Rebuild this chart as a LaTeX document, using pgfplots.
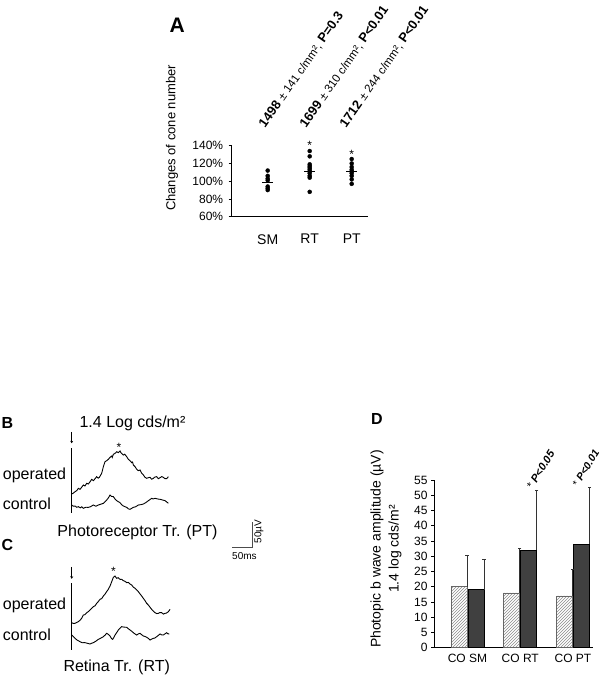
\documentclass[border=0pt]{standalone}
\usepackage{pgfplots}
\pgfplotsset{compat=1.18}
\usepackage{fontspec}
\setmainfont{Liberation Sans}
\usetikzlibrary{patterns,arrows.meta}

\pgfdeclareplotmark{halfcap}{%
  \pgfpathmoveto{\pgfpoint{-3.5pt}{0pt}}%
  \pgfpathlineto{\pgfpoint{0pt}{0pt}}%
  \pgfusepathqstroke}

\newcommand{\fs}[1]{\fontsize{#1}{#1}\selectfont}

\begin{document}
\begin{tikzpicture}[x=1pt,y=1pt]
\path[use as bounding box] (0,0) rectangle (605,680);

% ---------------- Panel A ----------------
\node[anchor=base west, font=\fs{21}\bfseries, inner sep=0pt] at (169.5,647) {A};
\node[rotate=90, font=\fs{13}] at (172,542) {Changes of cone number};

\begin{axis}[
  at={(231.7pt,463.3pt)}, anchor=south west,
  x=42pt, y=0.8875pt,
  xmin=0.143, xmax=3.38, ymin=60, ymax=140,
  axis lines=left, axis line style={-, line width=0.7pt},
  clip=false,
  xtick={1,2,3}, xticklabels={SM,RT,PT},
  ytick={60,80,100,120,140},
  yticklabel={\pgfmathprintnumber{\tick}\%},
  /pgf/number format/assume math mode=true,
  yticklabel style={font=\fs{12}, xshift=-2pt},
  xticklabel style={font=\fs{14}, yshift=-11pt},
  major x tick style={draw=none},
  tick align=outside, major tick length=3pt,
  tick style={black, line width=0.6pt},
]
\addplot[only marks, mark=*, mark size=2pt, black] coordinates {
 (1,112) (1,106) (1,103) (1,101) (1,94) (1,92) (1,90)
 (2,134) (2,128) (2,119) (2,117) (2,115) (2,113) (2,111) (2,109) (2,106) (2,104) (2,88)
 (3,125) (3,120) (3,116) (3,113) (3,111) (3,109) (3,106) (3,102) (3,97)
};
\addplot[black, line width=1pt] coordinates {(0.869,98.8) (1.131,98.8)};
\addplot[black, line width=1pt] coordinates {(1.869,110.7) (2.131,110.7)};
\addplot[black, line width=1pt] coordinates {(2.869,110.7) (3.131,110.7)};
\node[anchor=base, font=\fs{12}, inner sep=0pt] at (axis cs:2,135.5) {*};
\node[anchor=base, font=\fs{12}, inner sep=0pt] at (axis cs:3,125.3) {*};
\end{axis}

\node[rotate=55, anchor=base west, inner sep=0pt, font=\fs{13}] at (265,551.7)
  {\textbf{1498} {\fs{11.5}± 141 c/mm², }\textbf{P=0.3}};
\node[rotate=55, anchor=base west, inner sep=0pt, font=\fs{13}] at (306,551.7)
  {\textbf{1699} {\fs{11.5}± 310 c/mm², }\textbf{P<0.01}};
\node[rotate=55, anchor=base west, inner sep=0pt, font=\fs{13}] at (346,551.7)
  {\textbf{1712} {\fs{11.5}± 244 c/mm², }\textbf{P<0.01}};

% ---------------- Panel B ----------------
\node[anchor=base west, font=\fs{16}\bfseries, inner sep=0pt] at (1.5,251) {B};
\node[anchor=base, font=\fs{16}, inner sep=0pt] at (132.5,252.7) {1.4 Log cds/m²};
\node[anchor=base west, font=\fs{16}, inner sep=0pt] at (2.7,200) {operated};
\node[anchor=base west, font=\fs{16}, inner sep=0pt] at (2.7,170) {control};
\node[anchor=base, font=\fs{16}, inner sep=0pt] at (137.5,143.3) {Photoreceptor Tr. (PT)};

\begin{axis}[
  at={(67.8pt,120.2pt)}, anchor=south west,
  x=0.39pt, y=0.52pt,
  xmin=-10, xmax=490, ymin=-90, ymax=170,
  hide axis, clip=false,
]
% stimulus marker
\addplot[black, line width=1pt] coordinates {(0,0) (0,125)};
\addplot[black, line width=0.8pt, -{Stealth[length=2.5pt,width=3pt]}] coordinates {(0,156) (0,134)};
% operated
\addplot[black, line width=0.9pt] table {
0 36.5
4 38
8.5 41.0
13 43
17.1 47.4
21.4 45.5
26 50
29.9 53.8
34 52
38.5 57.1
42.7 55.8
47 60
51.3 64.7
55.6 62.2
60 66
64.1 69.9
68 67
70.9 68.6
76.9 76.3
81.2 89.1
85.5 98.7
89.7 100.6
94.0 103.2
98.3 107.1
102.6 109.6
104 107
106.8 112.8
111.1 114.7
115.4 117.9
119.7 116.0
123.9 119.2
126 116
128.2 114.7
132.5 111.5
136 113
141.0 108.3
145.3 103.2
149.6 100.6
153.8 96.8
156 98
158.1 92.3
162.4 89.1
166.7 84.0
170.9 81.4
175.2 82.7
179.5 76.3
183.8 73.1
188.0 68.6
192.3 66.7
197 68
200.9 68.6
205 65
209.4 66.7
213 69
217.9 69.9
222 66
226.5 67.9
231 70
235.0 68.6
239 66
243.6 66.0
247.9 69.9
};
% control
\addplot[black, line width=0.9pt] table {
0 15.4
4 13
8.5 13.5
13 11
17.1 12.2
22 10
26 12
29.9 9.0
36 11
42.7 10.9
48 12
55.6 15.4
62 13
68.4 15.4
75 17
81.2 18.6
89.7 25.0
94 29
98.3 34.6
102 32
106.8 31.4
111 27
115.4 23.7
119 22
123.9 19.9
128 16
132.5 13.5
137 12
141.0 10.9
145 8
149.6 7.1
154 9
158.1 10.9
164 12
170.9 15.4
177 16
183.8 17.3
190 20
196.6 23.7
201 26
205.1 28.2
209 27
213.7 28.2
220 27
226.5 26.3
233 25
239.3 23.7
244 21
247.9 18.6
};
\node[anchor=center, font=\fs{12}, inner sep=0pt] at (axis cs:121,126) {*};
% scale bar
\addplot[black!70, line width=0.7pt] coordinates {(412,-67) (462,-67) (462,-17)};
\node[font=\fs{10}, inner sep=0pt] at (axis cs:443,-82) {50ms};
\node[rotate=90, font=\fs{10}, inner sep=0pt] at (axis cs:480,-36) {50µV};
\end{axis}

% ---------------- Panel C ----------------
\node[anchor=base west, font=\fs{16}\bfseries, inner sep=0pt] at (1.5,129.3) {C};
\node[anchor=base west, font=\fs{16}, inner sep=0pt] at (2.7,70) {operated};
\node[anchor=base west, font=\fs{16}, inner sep=0pt] at (2.7,39) {control};
\node[anchor=base, font=\fs{16}, inner sep=0pt] at (116.7,8.3) {Retina Tr. (RT)};

\begin{axis}[
  at={(67.8pt,24.8pt)}, anchor=south west,
  x=0.39pt, y=0.52pt,
  xmin=-10, xmax=490, ymin=-10, ymax=170,
  hide axis, clip=false,
]
\addplot[black, line width=1pt] coordinates {(0,0) (0,128)};
\addplot[black, line width=0.8pt, -{Stealth[length=2.5pt,width=3pt]}] coordinates {(0,160) (0,137)};
% operated
\addplot[black, line width=0.9pt] table {
0 52.6
4 51
8.5 51.3
13 53
17.1 54.5
21 57
25.6 60.9
29.9 67.3
34 68
38.5 71.8
43 74
47.0 76.9
51 80
55.6 83.3
60 85
64.1 89.7
68 93
72.6 97.4
77 99
81.2 103.8
85 107
89.7 112.2
94 117
98.3 123.1
102.6 131.4
106.8 139.7
111.1 142.3
113 140
115.4 137.8
119 139
123.9 135.9
128 136
132.5 133.3
137 132
141.0 129.5
145 130
149.6 126.9
153.8 125.0
158 121
162.4 118.6
166 116
170.9 112.2
175 108
179.5 103.8
184 99
188.0 94.9
192 90
196.6 86.5
201 82
205.1 78.2
209 75
213.7 71.8
218 70
222.2 70.5
226 72
230.8 71.8
235 69
239.3 70.5
243 71
247.9 73.7
252.1 78.2
};
% control
\addplot[black, line width=0.9pt] table {
0 28.8
4 26
8.5 22.4
14 19
21.4 16.0
27 14
34.2 14.1
40 13
47.0 11.5
51 13
55.6 14.1
62 17
68.4 20.5
75 23
81.2 25.6
86 29
89.7 32.1
94 30
98.3 26.9
102 22
105.1 20.5
108 24
111.1 28.8
115 33
119.7 38.5
124 42
128.2 44.9
134 44
141.0 43.6
145 41
149.6 38.5
154 36
158.1 33.3
162 31
166.7 28.8
171 31
175.2 32.1
180 29
183.8 26.9
188 26
192.3 24.4
197 22
200.9 19.2
205 21
209.4 22.4
213 23
217.9 25.6
222 28
226.5 30.8
231 29
235.0 28.8
239 31
243.6 33.3
247 31
250.4 30.8
};
\node[anchor=center, font=\fs{12}, inner sep=0pt] at (axis cs:107,152) {*};
\end{axis}

% ---------------- Panel D ----------------
\node[anchor=base west, font=\fs{16}\bfseries, inner sep=0pt] at (371,255) {D};
\node[rotate=90, align=center, font=\fontsize{14}{18}\selectfont] at (386,131)
  {Photopic b wave amplitude (µV)\\1.4 log cds/m²};

\begin{axis}[
  at={(434pt,32.3pt)}, anchor=south west,
  x=52.75pt, y=3.05pt,
  xmin=-0.635, xmax=2.385, ymin=0, ymax=55,
  axis lines=left, axis line style={-, line width=0.7pt},
  clip=false,
  xtick={0,1,2}, xticklabels={CO SM, CO RT, CO PT},
  ytick={0,5,...,55},
  /pgf/number format/assume math mode=true,
  tick label style={font=\fs{12}},
  major x tick style={draw=none},
  tick align=outside, major tick length=3pt,
  tick style={black, line width=0.6pt},
]
\addplot[ybar, bar width=16pt, bar shift=-8.5pt, draw=black!60, line width=0.6pt, fill=white,
  postaction={pattern=north east lines, pattern color=black!45}]
  coordinates {(0,20) (1,18) (2,17)};
\addplot[ybar, bar width=16pt, bar shift=8.5pt, draw=black, line width=0.6pt, fill=black!75]
  coordinates {(0,19) (1,32) (2,34)};
% error bars (drawn at the right edge of each bar, caps to the left)
\addplot[draw=none, mark=none, error bars/.cd, y dir=plus, y explicit,
  error mark=halfcap, error bar style={black!80, line width=0.6pt}]
  table[x=x, y=v, y error=e] {
x v e
-0.01 20 10.3
0.31 19 10.1
0.99 18 14.6
1.31 32 19.7
1.99 17 8.7
2.31 34 18.6
};
\end{axis}
\node[rotate=58, anchor=base west, inner sep=0pt, font=\fs{11}] at (532.5,190.1)
  {* \textbf{\textit{P<0.05}}};
\node[rotate=58, anchor=base west, inner sep=0pt, font=\fs{10.5}] at (578,192.4)
  {* \textbf{\textit{P<0.01}}};

\end{tikzpicture}
\end{document}
